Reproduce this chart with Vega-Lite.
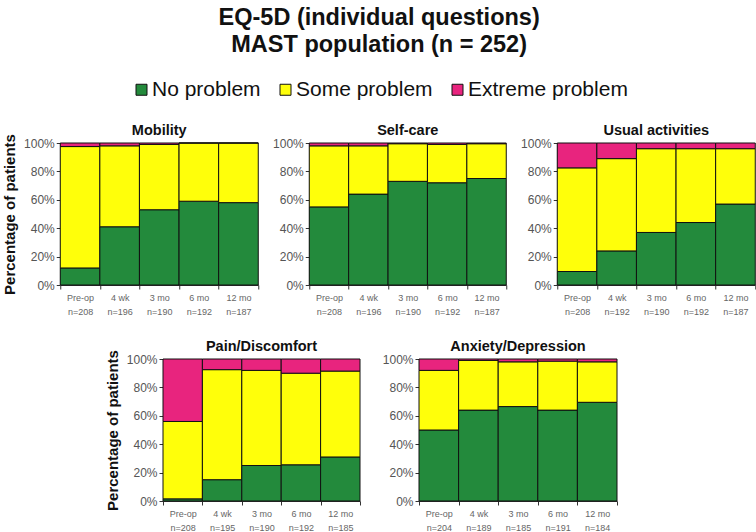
{
  "$schema": "https://vega.github.io/schema/vega-lite/v6.json",
  "padding": {"left": 2, "right": 1, "top": 5, "bottom": 0},
  "background": "white",
  "title": {
    "text": ["EQ-5D (individual questions)", "MAST population (n = 252)"],
    "fontSize": 23.5, "fontWeight": "bold", "lineHeight": 27, "anchor": "middle", "offset": 23, "color": "#111"
  },
  "data": {"values": [
    {"q":"Mobility","lbl":"Pre-op|n=208","o":1,"cat":"No problem","c":1,"pct":12},
    {"q":"Mobility","lbl":"Pre-op|n=208","o":1,"cat":"Some problem","c":2,"pct":85.5},
    {"q":"Mobility","lbl":"Pre-op|n=208","o":1,"cat":"Extreme problem","c":3,"pct":2.5},
    {"q":"Mobility","lbl":"4 wk|n=196","o":2,"cat":"No problem","c":1,"pct":41},
    {"q":"Mobility","lbl":"4 wk|n=196","o":2,"cat":"Some problem","c":2,"pct":57},
    {"q":"Mobility","lbl":"4 wk|n=196","o":2,"cat":"Extreme problem","c":3,"pct":2},
    {"q":"Mobility","lbl":"3 mo|n=190","o":3,"cat":"No problem","c":1,"pct":53},
    {"q":"Mobility","lbl":"3 mo|n=190","o":3,"cat":"Some problem","c":2,"pct":46},
    {"q":"Mobility","lbl":"3 mo|n=190","o":3,"cat":"Extreme problem","c":3,"pct":1},
    {"q":"Mobility","lbl":"6 mo|n=192","o":4,"cat":"No problem","c":1,"pct":59},
    {"q":"Mobility","lbl":"6 mo|n=192","o":4,"cat":"Some problem","c":2,"pct":41},
    {"q":"Mobility","lbl":"6 mo|n=192","o":4,"cat":"Extreme problem","c":3,"pct":0},
    {"q":"Mobility","lbl":"12 mo|n=187","o":5,"cat":"No problem","c":1,"pct":58},
    {"q":"Mobility","lbl":"12 mo|n=187","o":5,"cat":"Some problem","c":2,"pct":42},
    {"q":"Mobility","lbl":"12 mo|n=187","o":5,"cat":"Extreme problem","c":3,"pct":0},

    {"q":"Self-care","lbl":"Pre-op|n=208","o":1,"cat":"No problem","c":1,"pct":55},
    {"q":"Self-care","lbl":"Pre-op|n=208","o":1,"cat":"Some problem","c":2,"pct":43},
    {"q":"Self-care","lbl":"Pre-op|n=208","o":1,"cat":"Extreme problem","c":3,"pct":2},
    {"q":"Self-care","lbl":"4 wk|n=196","o":2,"cat":"No problem","c":1,"pct":64},
    {"q":"Self-care","lbl":"4 wk|n=196","o":2,"cat":"Some problem","c":2,"pct":34},
    {"q":"Self-care","lbl":"4 wk|n=196","o":2,"cat":"Extreme problem","c":3,"pct":2},
    {"q":"Self-care","lbl":"3 mo|n=190","o":3,"cat":"No problem","c":1,"pct":73},
    {"q":"Self-care","lbl":"3 mo|n=190","o":3,"cat":"Some problem","c":2,"pct":26.5},
    {"q":"Self-care","lbl":"3 mo|n=190","o":3,"cat":"Extreme problem","c":3,"pct":0.5},
    {"q":"Self-care","lbl":"6 mo|n=192","o":4,"cat":"No problem","c":1,"pct":72},
    {"q":"Self-care","lbl":"6 mo|n=192","o":4,"cat":"Some problem","c":2,"pct":27},
    {"q":"Self-care","lbl":"6 mo|n=192","o":4,"cat":"Extreme problem","c":3,"pct":1},
    {"q":"Self-care","lbl":"12 mo|n=187","o":5,"cat":"No problem","c":1,"pct":75},
    {"q":"Self-care","lbl":"12 mo|n=187","o":5,"cat":"Some problem","c":2,"pct":24.5},
    {"q":"Self-care","lbl":"12 mo|n=187","o":5,"cat":"Extreme problem","c":3,"pct":0.5},

    {"q":"Usual activities","lbl":"Pre-op|n=208","o":1,"cat":"No problem","c":1,"pct":9.5},
    {"q":"Usual activities","lbl":"Pre-op|n=208","o":1,"cat":"Some problem","c":2,"pct":73},
    {"q":"Usual activities","lbl":"Pre-op|n=208","o":1,"cat":"Extreme problem","c":3,"pct":17.5},
    {"q":"Usual activities","lbl":"4 wk|n=192","o":2,"cat":"No problem","c":1,"pct":24},
    {"q":"Usual activities","lbl":"4 wk|n=192","o":2,"cat":"Some problem","c":2,"pct":65},
    {"q":"Usual activities","lbl":"4 wk|n=192","o":2,"cat":"Extreme problem","c":3,"pct":11},
    {"q":"Usual activities","lbl":"3 mo|n=190","o":3,"cat":"No problem","c":1,"pct":37},
    {"q":"Usual activities","lbl":"3 mo|n=190","o":3,"cat":"Some problem","c":2,"pct":59},
    {"q":"Usual activities","lbl":"3 mo|n=190","o":3,"cat":"Extreme problem","c":3,"pct":4},
    {"q":"Usual activities","lbl":"6 mo|n=192","o":4,"cat":"No problem","c":1,"pct":44},
    {"q":"Usual activities","lbl":"6 mo|n=192","o":4,"cat":"Some problem","c":2,"pct":52},
    {"q":"Usual activities","lbl":"6 mo|n=192","o":4,"cat":"Extreme problem","c":3,"pct":4},
    {"q":"Usual activities","lbl":"12 mo|n=187","o":5,"cat":"No problem","c":1,"pct":57},
    {"q":"Usual activities","lbl":"12 mo|n=187","o":5,"cat":"Some problem","c":2,"pct":39},
    {"q":"Usual activities","lbl":"12 mo|n=187","o":5,"cat":"Extreme problem","c":3,"pct":4},

    {"q":"Pain/Discomfort","lbl":"Pre-op|n=208","o":1,"cat":"No problem","c":1,"pct":1.5},
    {"q":"Pain/Discomfort","lbl":"Pre-op|n=208","o":1,"cat":"Some problem","c":2,"pct":54.5},
    {"q":"Pain/Discomfort","lbl":"Pre-op|n=208","o":1,"cat":"Extreme problem","c":3,"pct":44},
    {"q":"Pain/Discomfort","lbl":"4 wk|n=195","o":2,"cat":"No problem","c":1,"pct":15},
    {"q":"Pain/Discomfort","lbl":"4 wk|n=195","o":2,"cat":"Some problem","c":2,"pct":77.5},
    {"q":"Pain/Discomfort","lbl":"4 wk|n=195","o":2,"cat":"Extreme problem","c":3,"pct":7.5},
    {"q":"Pain/Discomfort","lbl":"3 mo|n=190","o":3,"cat":"No problem","c":1,"pct":25},
    {"q":"Pain/Discomfort","lbl":"3 mo|n=190","o":3,"cat":"Some problem","c":2,"pct":67},
    {"q":"Pain/Discomfort","lbl":"3 mo|n=190","o":3,"cat":"Extreme problem","c":3,"pct":8},
    {"q":"Pain/Discomfort","lbl":"6 mo|n=192","o":4,"cat":"No problem","c":1,"pct":25.5},
    {"q":"Pain/Discomfort","lbl":"6 mo|n=192","o":4,"cat":"Some problem","c":2,"pct":64.5},
    {"q":"Pain/Discomfort","lbl":"6 mo|n=192","o":4,"cat":"Extreme problem","c":3,"pct":10},
    {"q":"Pain/Discomfort","lbl":"12 mo|n=185","o":5,"cat":"No problem","c":1,"pct":31},
    {"q":"Pain/Discomfort","lbl":"12 mo|n=185","o":5,"cat":"Some problem","c":2,"pct":60.5},
    {"q":"Pain/Discomfort","lbl":"12 mo|n=185","o":5,"cat":"Extreme problem","c":3,"pct":8.5},

    {"q":"Anxiety/Depression","lbl":"Pre-op|n=204","o":1,"cat":"No problem","c":1,"pct":50},
    {"q":"Anxiety/Depression","lbl":"Pre-op|n=204","o":1,"cat":"Some problem","c":2,"pct":42},
    {"q":"Anxiety/Depression","lbl":"Pre-op|n=204","o":1,"cat":"Extreme problem","c":3,"pct":8},
    {"q":"Anxiety/Depression","lbl":"4 wk|n=189","o":2,"cat":"No problem","c":1,"pct":64},
    {"q":"Anxiety/Depression","lbl":"4 wk|n=189","o":2,"cat":"Some problem","c":2,"pct":35},
    {"q":"Anxiety/Depression","lbl":"4 wk|n=189","o":2,"cat":"Extreme problem","c":3,"pct":1},
    {"q":"Anxiety/Depression","lbl":"3 mo|n=185","o":3,"cat":"No problem","c":1,"pct":66.5},
    {"q":"Anxiety/Depression","lbl":"3 mo|n=185","o":3,"cat":"Some problem","c":2,"pct":31.5},
    {"q":"Anxiety/Depression","lbl":"3 mo|n=185","o":3,"cat":"Extreme problem","c":3,"pct":2},
    {"q":"Anxiety/Depression","lbl":"6 mo|n=191","o":4,"cat":"No problem","c":1,"pct":64},
    {"q":"Anxiety/Depression","lbl":"6 mo|n=191","o":4,"cat":"Some problem","c":2,"pct":34.5},
    {"q":"Anxiety/Depression","lbl":"6 mo|n=191","o":4,"cat":"Extreme problem","c":3,"pct":1.5},
    {"q":"Anxiety/Depression","lbl":"12 mo|n=184","o":5,"cat":"No problem","c":1,"pct":69.5},
    {"q":"Anxiety/Depression","lbl":"12 mo|n=184","o":5,"cat":"Some problem","c":2,"pct":28.5},
    {"q":"Anxiety/Depression","lbl":"12 mo|n=184","o":5,"cat":"Extreme problem","c":3,"pct":2}
  ]},
  "config": {
    "view": {"stroke": null},
    "font": "Liberation Sans",
    "title": {"fontSize": 14.5, "fontWeight": "bold", "color": "#111"},
    "axis": {
      "domainColor": "#333", "tickColor": "#333", "tickSize": 4, "grid": false,
      "labelColor": "#555", "titleColor": "#111", "titleFontWeight": "bold", "titleFontSize": 15
    },
    "axisX": {"labelFontSize": 9, "labelColor": "#666", "labelLineHeight": 14, "labelPadding": 4, "tickBand": "extent", "labelAngle": 0},
    "axisY": {"labelFontSize": 12, "titlePadding": 6},
    "legend": {"layout": {"top": {"anchor": "middle"}}}
  },
  "vconcat": [
    {
      "spacing": 13,
      "hconcat": [
        {"width": 198, "height": 142, "title": {"text": "Mobility", "offset": -5},
         "transform": [{"filter": "datum.q == 'Mobility'"}],
         "mark": {"type": "bar", "stroke": "#111", "strokeWidth": 1},
         "encoding": {
           "x": {"field": "lbl", "type": "nominal", "sort": {"field": "o", "op": "min"}, "scale": {"paddingInner": 0, "paddingOuter": 0}, "axis": {"title": null, "labelExpr": "split(datum.label, '|')"}},
           "y": {"field": "pct", "type": "quantitative", "stack": "zero", "scale": {"domain": [0, 100]}, "axis": {"title": "Percentage of patients", "values": [0,20,40,60,80,100], "labelExpr": "datum.value + '%'"}},
           "color": {"field": "cat", "type": "nominal", "scale": {"domain": ["No problem","Some problem","Extreme problem"], "range": ["#238A3C","#FFFF0A","#E8247E"]},
             "legend": {"title": null, "orient": "top", "direction": "horizontal", "symbolType": "square", "symbolSize": 121, "symbolStrokeColor": "#111", "symbolStrokeWidth": 1, "symbolOpacity": 1, "labelFontSize": 21, "labelColor": "#111", "labelOffset": 0, "columnPadding": 14, "offset": 22}},
           "order": {"field": "c"}
         }},
        {"width": 197, "height": 142, "title": {"text": "Self-care", "offset": -1},
         "transform": [{"filter": "datum.q == 'Self-care'"}],
         "mark": {"type": "bar", "stroke": "#111", "strokeWidth": 1},
         "encoding": {
           "x": {"field": "lbl", "type": "nominal", "sort": {"field": "o", "op": "min"}, "scale": {"paddingInner": 0, "paddingOuter": 0}, "axis": {"title": null, "labelExpr": "split(datum.label, '|')"}},
           "y": {"field": "pct", "type": "quantitative", "stack": "zero", "scale": {"domain": [0, 100]}, "axis": {"title": null, "values": [0,20,40,60,80,100], "labelExpr": "datum.value + '%'"}},
           "color": {"field": "cat", "type": "nominal"},
           "order": {"field": "c"}
         }},
        {"width": 198, "height": 142, "title": {"text": "Usual activities", "offset": -1},
         "transform": [{"filter": "datum.q == 'Usual activities'"}],
         "mark": {"type": "bar", "stroke": "#111", "strokeWidth": 1},
         "encoding": {
           "x": {"field": "lbl", "type": "nominal", "sort": {"field": "o", "op": "min"}, "scale": {"paddingInner": 0, "paddingOuter": 0}, "axis": {"title": null, "labelExpr": "split(datum.label, '|')"}},
           "y": {"field": "pct", "type": "quantitative", "stack": "zero", "scale": {"domain": [0, 100]}, "axis": {"title": null, "values": [0,20,40,60,80,100], "labelExpr": "datum.value + '%'"}},
           "color": {"field": "cat", "type": "nominal"},
           "order": {"field": "c"}
         }}
      ]
    },
    {
      "spacing": 21,
      "hconcat": [
        {"width": 197, "height": 142, "title": {"text": "Pain/Discomfort", "offset": -5},
         "transform": [{"filter": "datum.q == 'Pain/Discomfort'"}],
         "mark": {"type": "bar", "stroke": "#111", "strokeWidth": 1},
         "encoding": {
           "x": {"field": "lbl", "type": "nominal", "sort": {"field": "o", "op": "min"}, "scale": {"paddingInner": 0, "paddingOuter": 0}, "axis": {"title": null, "labelExpr": "split(datum.label, '|')"}},
           "y": {"field": "pct", "type": "quantitative", "stack": "zero", "scale": {"domain": [0, 100]}, "axis": {"title": "Percentage of patients", "values": [0,20,40,60,80,100], "labelExpr": "datum.value + '%'"}},
           "color": {"field": "cat", "type": "nominal"},
           "order": {"field": "c"}
         }},
        {"width": 198, "height": 142, "title": {"text": "Anxiety/Depression", "offset": -1},
         "transform": [{"filter": "datum.q == 'Anxiety/Depression'"}],
         "mark": {"type": "bar", "stroke": "#111", "strokeWidth": 1},
         "encoding": {
           "x": {"field": "lbl", "type": "nominal", "sort": {"field": "o", "op": "min"}, "scale": {"paddingInner": 0, "paddingOuter": 0}, "axis": {"title": null, "labelExpr": "split(datum.label, '|')"}},
           "y": {"field": "pct", "type": "quantitative", "stack": "zero", "scale": {"domain": [0, 100]}, "axis": {"title": null, "values": [0,20,40,60,80,100], "labelExpr": "datum.value + '%'"}},
           "color": {"field": "cat", "type": "nominal"},
           "order": {"field": "c"}
         }},
        {"width": 14, "height": 142,
         "transform": [{"filter": "false"}],
         "mark": {"type": "rule", "opacity": 0},
         "encoding": {}}
      ]
    }
  ],
  "spacing": 22,
  "center": true
}
